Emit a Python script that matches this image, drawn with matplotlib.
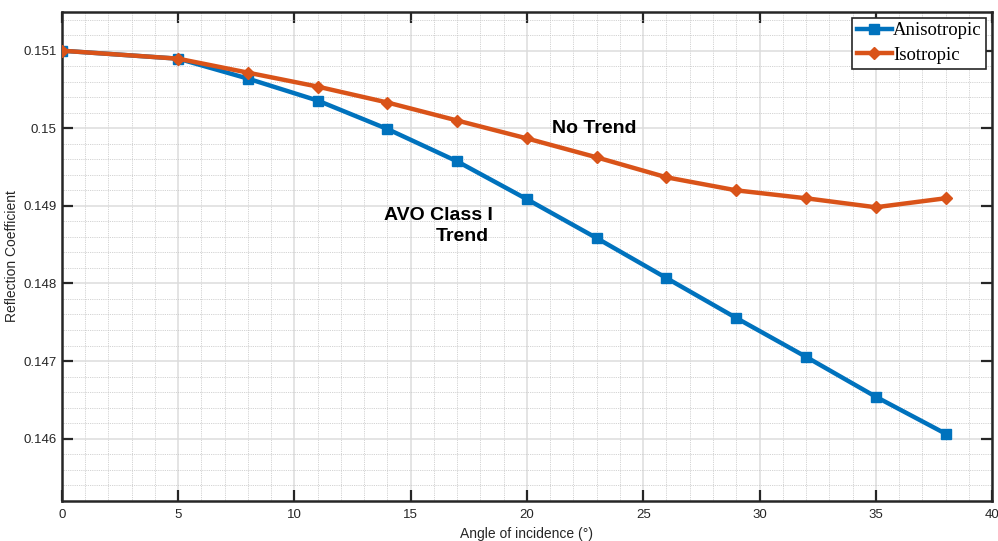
import matplotlib
matplotlib.use("Agg")
import matplotlib.pyplot as plt
from matplotlib.ticker import MultipleLocator, FixedLocator

angles = [0, 5, 8, 11, 14, 17, 20, 23, 26, 29, 32, 35, 38]
anisotropic = [0.15100, 0.150897, 0.15064, 0.150357, 0.14999, 0.149573, 0.149085,
               0.148584, 0.148069, 0.147555, 0.147054, 0.146540, 0.146064]
isotropic = [0.15100, 0.150897, 0.150717, 0.150537, 0.150332, 0.15010, 0.149869,
             0.149625, 0.149368, 0.149200, 0.149098, 0.148982, 0.149098]
y_ticks = [0.146, 0.147, 0.148, 0.149, 0.150, 0.151]
y_tick_labels = ["0.146", "0.147", "0.148", "0.149", "0.15", "0.151"]
x_ticks = [0, 5, 10, 15, 20, 25, 30, 35, 40]

fig = plt.figure(figsize=(9.98, 5.41), dpi=100)
ax = fig.add_axes([0.0621, 0.0745, 0.9319, 0.9035])

sans = ["Liberation Sans", "DejaVu Sans"]
serif = ["Liberation Serif", "DejaVu Serif"]

ax.plot(angles, anisotropic, color="#0072BD", lw=3.2, marker="s", ms=6.5,
        label="Anisotropic", zorder=3)
ax.plot(angles, isotropic, color="#D95319", lw=3.2, marker="D", ms=6.5,
        label="Isotropic", zorder=4)

ax.set_xlim(0, 40)
ax.set_ylim(0.1452, 0.1515)
ax.xaxis.set_major_locator(FixedLocator(x_ticks))
ax.xaxis.set_minor_locator(MultipleLocator(1))
ax.set_yticks(y_ticks)
ax.set_yticklabels(y_tick_labels)
ax.yaxis.set_minor_locator(MultipleLocator(0.0002))

ax.grid(which="major", color="#dcdcdc", lw=1.1, ls="-", zorder=0)
ax.grid(which="minor", color="#c4c4c4", lw=0.6, ls=(0, (1, 1.2)), zorder=0)
ax.set_axisbelow(True)

ax.tick_params(which="major", direction="in", length=8, width=1.6,
               top=True, right=True, labelsize=9.5, colors="#262626", pad=4)
ax.tick_params(axis="x", which="major", pad=6)
ax.tick_params(which="minor", length=0, top=True, right=True)
for lab in ax.get_xticklabels() + ax.get_yticklabels():
    lab.set_fontfamily(sans)
for s in ax.spines.values():
    s.set_linewidth(1.8)
    s.set_color("#262626")

ax.set_xlabel("Angle of incidence (°)", fontsize=10, family=sans,
              color="#262626", labelpad=4)
ax.set_ylabel("Reflection Coefficient", fontsize=10, family=sans,
              color="#262626", labelpad=3)

ax.text(22.9, 0.150, "No Trend", fontsize=14, fontweight="bold",
        family=sans, ha="center", va="center")
ax.text(16.2, 0.14888, "AVO Class I", fontsize=14, fontweight="bold",
        family=sans, ha="center", va="center")
ax.text(17.2, 0.14861, "Trend", fontsize=14, fontweight="bold",
        family=sans, ha="center", va="center")

leg = ax.legend(loc="upper right", prop={"family": serif, "size": 13.5},
                frameon=True, fancybox=False, borderpad=0.25, handlelength=1.9,
                handletextpad=0.05, labelspacing=0.4, borderaxespad=0.3)
leg.get_frame().set_edgecolor("#262626")
leg.get_frame().set_linewidth(1.2)
leg.get_frame().set_alpha(1)

fig.savefig("out.png", dpi=100)
